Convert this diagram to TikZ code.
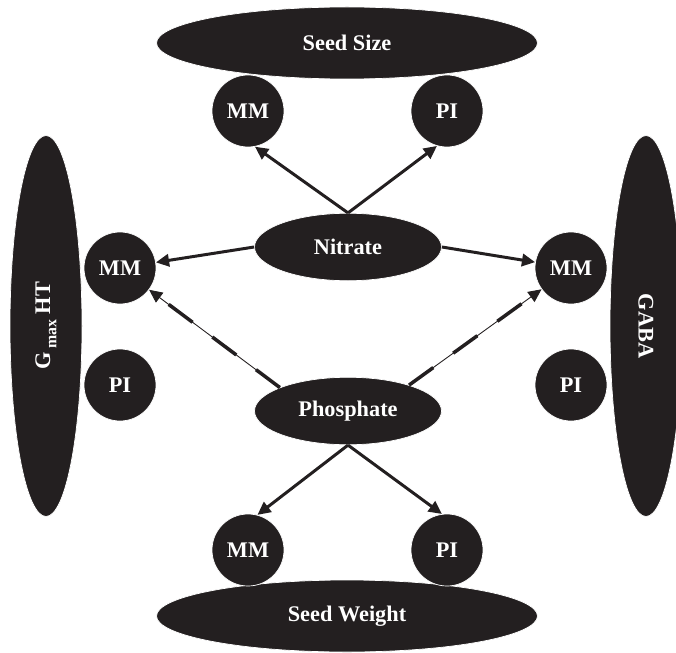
\documentclass[tikz,border=0pt]{standalone}
\usepackage{fontspec}
\setmainfont{Liberation Serif}
\usepackage{xcolor}
\usepackage{tikz}
\usetikzlibrary{arrows.meta, shapes.geometric, positioning}
\definecolor{blob}{HTML}{231F20}

\begin{document}
\begin{tikzpicture}[>={Triangle[length=7.5pt,width=7pt]},
  font=\fontsize{12.7}{14}\selectfont\bfseries,
  trait/.style={ellipse, fill=blob, draw=white, text=white, inner sep=0pt,
    minimum width=7.62cm, minimum height=1.44cm},
  ion/.style={ellipse, fill=blob, draw=white, text=white, inner sep=0pt,
    minimum width=3.74cm, minimum height=1.35cm},
  qtl/.style={circle, fill=blob, draw=white, text=white, inner sep=0pt,
    minimum size=1.44cm},
  effect/.style={->, blob, line width=1.7pt},
  weak/.style={->, blob, line width=0.5pt,
    postaction={draw, -, shorten >=6pt, line width=2pt,
      dash pattern=on 17pt off 14pt}}]
  \clip (0,0) rectangle (13.52,13.04);
  %% traits
  \node[trait] (seedsize) at (6.94,12.18) {Seed Size};
  \node[trait] (seedweight) at (6.94,0.72) {Seed Weight};
  \node[trait, rotate=90] (gmax) at (0.92,6.52)
    {G\,\raisebox{-3.5pt}{\fontsize{9}{9}\selectfont max} HT};
  \node[trait, rotate=-90] (gaba) at (12.92,6.52) {GABA};
  %% nutrients
  \node[ion] (nitrate) at (6.96,8.10) {Nitrate};
  \node[ion] (phosphate) at (6.96,4.82) {Phosphate};
  %% MM / PI
  \node[qtl] (mmsize) at (4.96,10.82) {MM};
  \node[qtl] (pisize) at (8.94,10.82) {PI};
  \node[qtl] (mmgmax) at (2.40,7.68) {MM};
  \node[qtl] (pigmax) at (2.40,5.34) {PI};
  \node[qtl] (mmgaba) at (11.42,7.68) {MM};
  \node[qtl] (pigaba) at (11.42,5.34) {PI};
  \node[qtl] (mmweight) at (4.96,2.04) {MM};
  \node[qtl] (piweight) at (8.94,2.04) {PI};
  %% arrows
  \draw[effect] (nitrate.north) -- (mmsize.-79);
  \draw[effect] (nitrate.north) -- (pisize.-106);
  \draw[effect] (nitrate.west) -- (mmgmax);
  \draw[effect] (nitrate.east) -- (mmgaba);
  \draw[weak] (phosphate.161) -- (mmgmax);
  \draw[weak] (phosphate.23) -- (mmgaba);
  \draw[effect] (phosphate.south) -- (mmweight.75);
  \draw[effect] (phosphate.south) -- (piweight.98);
\end{tikzpicture}
\end{document}
